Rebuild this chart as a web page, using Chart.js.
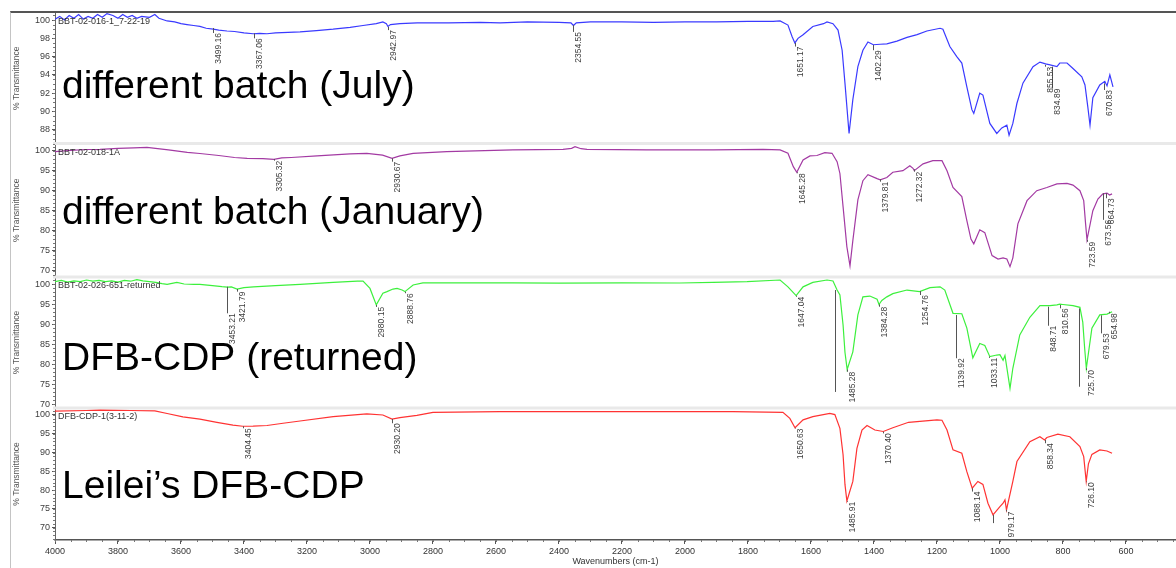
<!DOCTYPE html>
<html>
<head>
<meta charset="utf-8">
<title>IR spectra comparison</title>
<script src="https://cdn.jsdelivr.net/npm/chart.js@4.4.1/dist/chart.umd.min.js"></script>
<style>
  html, body { margin: 0; padding: 0; background: #fff; }
  #wrap { position: relative; width: 1176px; height: 568px; overflow: hidden; }
  #frame { position: absolute; left: 10px; top: 11px; right: 0; bottom: 0;
           border-left: 1px solid #c4c4c4; border-top: 2px solid #555; }
  #irChart { position: absolute; left: 0; top: 0; }
</style>
</head>
<body>
<div id="wrap">
  <div id="frame"></div>
  <canvas id="irChart" width="1176" height="568"></canvas>
</div>
<script>
// spectra: [wavenumber (cm-1), % transmittance]
const julySpectrum = [
  [4000, 100.1], [3985, 100.4], [3970, 100.0], [3955, 100.5], [3940, 100.2], [3925, 100.6],
  [3910, 100.1], [3895, 100.4], [3880, 100.2], [3865, 100.6], [3850, 100.3], [3835, 100.7],
  [3816, 100.5], [3800, 100.2], [3785, 100.6], [3770, 100.3], [3755, 100.5], [3740, 100.2],
  [3725, 100.4], [3700, 100.3], [3683, 100.6], [3670, 100.2], [3644, 99.9], [3620, 99.8],
  [3600, 99.6], [3581, 99.5], [3560, 99.4], [3540, 99.3], [3520, 99.1], [3498, 99.0],
  [3480, 98.9], [3454, 98.8], [3430, 98.75], [3400, 98.6], [3371, 98.5], [3350, 98.55],
  [3327, 98.5], [3300, 98.6], [3260, 98.65], [3222, 98.7], [3170, 98.85], [3117, 99.0],
  [3063, 99.2], [3022, 99.4], [2980, 99.6], [2959, 99.8], [2948, 99.6], [2943, 99.3],
  [2935, 99.5], [2905, 99.6], [2850, 99.7], [2750, 99.7], [2650, 99.75], [2587, 99.7],
  [2500, 99.8], [2400, 99.75], [2362, 99.7], [2354, 99.4], [2345, 99.7], [2300, 99.8],
  [2200, 99.8], [2100, 99.75], [2000, 99.8], [1900, 99.8], [1800, 99.85], [1720, 99.85],
  [1698, 99.9], [1673, 99.45], [1660, 98.2], [1651, 97.5], [1641, 98.0], [1625, 98.4],
  [1594, 99.3], [1560, 99.6], [1549, 99.8], [1530, 99.6], [1514, 98.9], [1501, 96.7],
  [1492, 93.1], [1479, 87.6], [1467, 91.3], [1451, 94.9], [1435, 96.7], [1419, 97.6],
  [1402, 97.3], [1380, 97.35], [1359, 97.4], [1327, 97.7], [1295, 98.1], [1263, 98.4],
  [1232, 98.8], [1190, 99.1], [1181, 99.0], [1159, 97.1], [1137, 96.0], [1121, 95.3],
  [1105, 92.7], [1089, 90.2], [1083, 89.8], [1064, 92.0], [1054, 91.8], [1032, 88.7],
  [1010, 87.6], [994, 88.2], [978, 88.5], [971, 87.4], [959, 88.7], [946, 90.9],
  [927, 93.1], [895, 94.9], [873, 95.4], [855, 95.2], [841, 95.1], [819, 94.9],
  [810, 95.3], [787, 95.3], [768, 94.7], [740, 93.8], [730, 92.9], [721, 90.5],
  [714, 88.5], [705, 91.5], [683, 92.9], [667, 93.3], [660, 92.8], [651, 94.0], [641, 92.7]
];

const januarySpectrum = [
  [4000, 99.75], [3950, 100.1], [3900, 100.3], [3857, 100.35], [3800, 100.6], [3750, 100.7],
  [3708, 100.85], [3640, 100.2], [3580, 99.6], [3540, 99.3], [3480, 98.8], [3430, 98.3],
  [3390, 98.1], [3340, 98.0], [3305, 97.85], [3280, 98.2], [3250, 98.3], [3168, 98.7],
  [3063, 99.2], [3010, 99.35], [2960, 98.9], [2930, 98.1], [2905, 98.7], [2863, 99.35],
  [2756, 99.75], [2546, 100.2], [2387, 100.35], [2360, 100.6], [2349, 101.0], [2330, 100.5],
  [2311, 100.35], [2121, 100.2], [1911, 100.2], [1752, 100.35], [1698, 100.2], [1673, 99.35],
  [1656, 96.0], [1645, 94.6], [1625, 97.7], [1603, 98.7], [1581, 98.8], [1556, 99.5],
  [1533, 99.35], [1517, 97.25], [1508, 94.3], [1498, 86.0], [1486, 76.0], [1476, 71.2],
  [1467, 77.5], [1451, 87.7], [1435, 92.5], [1419, 94.0], [1390, 93.0], [1380, 92.7],
  [1359, 93.3], [1340, 94.6], [1308, 95.0], [1286, 96.25], [1276, 95.6], [1272, 95.0],
  [1244, 96.7], [1213, 97.5], [1184, 97.5], [1168, 95.0], [1149, 90.8], [1121, 88.5],
  [1105, 82.5], [1092, 77.9], [1083, 76.7], [1064, 80.2], [1048, 79.5], [1025, 73.75],
  [1006, 72.9], [990, 73.2], [978, 72.9], [968, 71.0], [959, 73.2], [943, 81.7],
  [914, 87.5], [883, 90.0], [851, 90.8], [819, 91.7], [787, 91.8], [768, 91.4],
  [746, 90.0], [734, 87.5], [728, 81.7], [723.6, 77.7], [705, 85.0], [689, 87.9],
  [673, 89.2], [660, 89.4], [652, 88.9], [644, 89.2]
];

const returnedSpectrum = [
  [4000, 100.6], [3980, 100.9], [3960, 100.5], [3940, 100.8], [3920, 100.6], [3900, 101.0],
  [3880, 100.7], [3860, 100.9], [3840, 100.6], [3820, 100.8], [3800, 100.5], [3780, 100.9],
  [3760, 100.7], [3740, 101.1], [3721, 100.8], [3700, 100.6], [3680, 100.4], [3660, 100.1],
  [3644, 99.9], [3613, 100.4], [3590, 100.0], [3560, 99.9], [3540, 99.9], [3500, 99.6],
  [3470, 99.35], [3453, 99.25], [3440, 99.3], [3422, 98.75], [3400, 99.1], [3370, 99.3],
  [3300, 99.6], [3222, 99.9], [3117, 100.4], [3040, 100.7], [3022, 100.75], [3000, 98.9],
  [2980, 94.8], [2959, 97.7], [2946, 98.1], [2927, 98.75], [2914, 98.9], [2898, 98.5],
  [2889, 98.1], [2863, 99.75], [2832, 100.3], [2700, 100.3], [2546, 100.3], [2400, 100.2],
  [2200, 100.3], [2016, 100.25], [1911, 100.4], [1803, 100.6], [1698, 101.0], [1673, 99.3],
  [1647, 97.1], [1625, 99.3], [1594, 100.4], [1549, 101.0], [1530, 100.75], [1517, 98.5],
  [1508, 97.3], [1498, 89.8], [1492, 83.0], [1485, 78.7], [1467, 83.1], [1451, 92.3],
  [1435, 96.8], [1413, 97.0], [1390, 96.2], [1384, 94.9], [1375, 95.9], [1359, 96.8],
  [1340, 97.6], [1295, 98.5], [1255, 98.1], [1222, 99.1], [1190, 99.3], [1175, 98.5],
  [1149, 92.7], [1121, 92.6], [1105, 89.0], [1086, 81.6], [1064, 85.2], [1048, 84.7],
  [1032, 81.9], [1010, 82.3], [1000, 82.4], [990, 81.0], [984, 82.2], [968, 74.0],
  [959, 79.0], [937, 87.3], [905, 91.7], [873, 94.6], [841, 94.6], [819, 94.8],
  [810, 95.0], [800, 94.9], [768, 94.6], [746, 94.2], [737, 90.5], [731, 84.0],
  [725.7, 79.0], [708, 89.0], [683, 92.3], [660, 92.5], [644, 93.1]
];

const leileiSpectrum = [
  [4000, 101.05], [3900, 101.2], [3857, 101.3], [3760, 101.2], [3683, 101.1], [3644, 100.4],
  [3594, 99.5], [3540, 98.9], [3486, 98.05], [3435, 97.3], [3404, 97.0], [3371, 97.05],
  [3327, 97.2], [3276, 97.8], [3222, 98.4], [3117, 99.55], [3010, 100.3], [2959, 100.0],
  [2930, 98.9], [2905, 99.3], [2851, 99.9], [2800, 100.7], [2587, 100.9], [2270, 100.9],
  [1848, 100.9], [1689, 100.7], [1667, 99.1], [1650.6, 96.6], [1625, 98.7], [1594, 99.55],
  [1540, 100.4], [1524, 100.1], [1508, 96.45], [1498, 89.4], [1492, 81.5], [1485.9, 77.1],
  [1467, 82.3], [1454, 91.1], [1438, 96.0], [1422, 97.2], [1397, 96.0], [1370.4, 95.6],
  [1340, 96.6], [1290, 98.05], [1200, 98.7], [1184, 98.6], [1168, 96.0], [1149, 90.7],
  [1121, 89.8], [1105, 84.9], [1088, 80.5], [1070, 82.3], [1054, 81.5], [1038, 76.5],
  [1022, 73.4], [1000, 75.6], [990, 76.5], [984, 77.4], [979.2, 74.7], [959, 82.3],
  [946, 87.6], [905, 92.9], [873, 94.2], [858.3, 93.35], [851, 94.0], [816, 94.9],
  [778, 94.2], [746, 91.6], [734, 88.9], [726.1, 82.3], [719, 87.0], [708, 89.5],
  [683, 90.7], [660, 90.4], [644, 89.8]
];

// peak marks: [wavenumber, leader start %T, label start %T]
const julyPeaks = [
  [3499.16, 99.13, 98.58], [3367.06, 98.54, 98.0], [2942.97, 99.27, 98.9], [2354.55, 99.45, 98.7],
  [1651.17, 97.5, 97.1], [1402.29, 97.27, 96.7], [855.53, 95.1, 94.9], [834.89, 94.9, 92.5],
  [670.83, 93.08, 92.35]
];
const januaryPeaks = [
  [3305.32, 97.9, 97.5], [2930.67, 98.1, 97.25], [1645.28, 94.6, 94.35], [1379.81, 92.85, 92.25],
  [1272.32, 95.35, 94.75], [723.59, 77.7, 77.2], [664.73, 89.35, 88.1], [673.56, 89.35, 82.7]
];
const returnedPeaks = [
  [3453.21, 99.33, 92.7], [3421.79, 98.75, 98.1], [2980.15, 94.76, 94.3], [2888.76, 98.08, 97.7],
  [1647.04, 97.08, 96.83], [1485.28, 78.7, 78.13], [1384.28, 94.94, 94.34], [1254.76, 98.25, 97.26],
  [1139.92, 92.27, 81.5], [1033.11, 81.9, 81.6], [848.71, 94.34, 89.6], [810.56, 94.76, 93.94],
  [725.70, 79.0, 78.55], [679.53, 92.2, 87.7], [654.98, 93.1, 92.7]
];
const leileiPeaks = [
  [3404.45, 97.0, 96.46], [2930.20, 98.94, 97.8], [1650.63, 96.6, 96.4], [1485.91, 77.1, 76.9],
  [1370.40, 95.56, 95.1], [1088.14, 80.5, 79.6], [979.17, 74.7, 74.3], [858.34, 93.35, 92.47],
  [726.10, 82.3, 82.1]
];
// leader lines with no label text: [wavenumber, top %T, bottom %T]
const returnedLeaders = [[1524, 98.5, 73.1], [749, 93.9, 74.4]];
const leileiLeaders = [[1021, 73.4, 71.2]];

const sampleNames = ['BBT-02-016-1_7-22-19', 'BBT-02-018-1A', 'BBT-02-026-651-returned', 'DFB-CDP-1(3-11-2)'];
const captions = ['different batch (July)', 'different batch (January)', 'DFB-CDP (returned)', 'Leilei\u2019s DFB-CDP'];

const FONT = "'Liberation Sans', Arial, sans-serif";
Chart.defaults.font.family = FONT;

const panels = [
  { axis: 'yJuly', color: '#3a3aff', spectrum: julySpectrum, peaks: julyPeaks, leaders: [], captionDrop: 85 },
  { axis: 'yJan', color: '#a33aa3', spectrum: januarySpectrum, peaks: januaryPeaks, leaders: [], captionDrop: 80 },
  { axis: 'yRet', color: '#3df03d', spectrum: returnedSpectrum, peaks: returnedPeaks, leaders: returnedLeaders, captionDrop: 93 },
  { axis: 'yLei', color: '#ff3333', spectrum: leileiSpectrum, peaks: leileiPeaks, leaders: leileiLeaders, captionDrop: 90 }
];

function panelAxis(min, max, step, weight, stackWeight) {
  return {
    type: 'linear',
    position: 'left',
    stack: 'ir',
    stackWeight: stackWeight,
    weight: weight,
    min: min,
    max: max,
    ticks: {
      stepSize: step,
      includeBounds: false,
      autoSkip: false,
      font: { size: 9 },
      color: '#3d3d3d',
      padding: 2,
      callback: (v) => String(v),
    },
    grid: { drawOnChartArea: false, tickLength: 3, color: '#555' },
    border: { color: '#666', width: 1 },
    title: { display: true, text: '% Transmittance', font: { size: 8.5 }, color: '#555', padding: { top: 2, bottom: 0 } },
    afterFit: (scale) => { scale.width = 45; },
  };
}

const panelDecor = {
  id: 'panelDecor',
  beforeDatasetsDraw(chart) {
    const c = chart.ctx;
    const x = chart.scales.x;
    c.save();
    // light bands between the stacked panels
    c.fillStyle = '#e9e9e9';
    panels.slice(1).forEach((p) => {
      const s = chart.scales[p.axis];
      c.fillRect(x.left - 2, s.top - 1.5, chart.width - x.left + 2, 3);
    });
    // minor ticks
    c.strokeStyle = '#777';
    c.lineWidth = 1;
    c.beginPath();
    panels.forEach((p, i) => {
      const s = chart.scales[p.axis];
      const minor = i === 0 ? 0.5 : 1;
      for (let v = Math.ceil(s.min / minor) * minor; v <= s.max; v += minor) {
        const py = Math.round(s.getPixelForValue(v)) + 0.5;
        c.moveTo(s.right - 2, py);
        c.lineTo(s.right, py);
      }
    });
    for (let v = 4000; v >= x.min; v -= 50) {
      const px = Math.round(x.getPixelForValue(v)) + 0.5;
      c.moveTo(px, x.top);
      c.lineTo(px, x.top + 2);
    }
    c.stroke();
    c.restore();
  },
  afterDatasetsDraw(chart) {
    const c = chart.ctx;
    const x = chart.scales.x;
    c.save();
    panels.forEach((p, i) => {
      const s = chart.scales[p.axis];
      // sample file name
      c.font = '9px ' + FONT;
      c.fillStyle = '#333';
      c.textBaseline = 'middle';
      c.textAlign = 'left';
      c.fillText(sampleNames[i], x.left + 3, s.top + 9);
      // peak leaders and labels
      c.strokeStyle = '#555';
      c.lineWidth = 1;
      c.beginPath();
      p.peaks.concat(p.leaders).forEach(([wn, top, bottom]) => {
        const px = Math.round(x.getPixelForValue(wn)) + 0.5;
        c.moveTo(px, s.getPixelForValue(top));
        c.lineTo(px, s.getPixelForValue(bottom));
      });
      c.stroke();
      c.font = '8.5px ' + FONT;
      c.fillStyle = '#3c3c3c';
      p.peaks.forEach(([wn, top, labelTop]) => {
        c.save();
        c.translate(Math.round(x.getPixelForValue(wn)) + 1, s.getPixelForValue(labelTop));
        c.rotate(-Math.PI / 2);
        c.textAlign = 'right';
        c.textBaseline = 'top';
        c.fillText(wn.toFixed(2), 0, 0);
        c.restore();
      });
      // big caption
      c.font = '39px ' + FONT;
      c.fillStyle = '#000';
      c.textBaseline = 'alphabetic';
      c.textAlign = 'left';
      c.fillText(captions[i], x.left + 7, s.top + p.captionDrop);
    });
    c.restore();
  }
};

const ctx = document.getElementById('irChart').getContext('2d');
new Chart(ctx, {
  type: 'line',
  data: {
    datasets: panels.map((p, i) => ({
      label: sampleNames[i],
      data: p.spectrum.map(([wn, t]) => ({ x: wn, y: t })),
      yAxisID: p.axis,
      borderColor: p.color,
      borderWidth: 1.2,
      pointRadius: 0,
      tension: 0,
      fill: false,
    })),
  },
  options: {
    responsive: false,
    animation: false,
    layout: { padding: { left: 10, top: 13, right: 0, bottom: 0 } },
    plugins: { legend: { display: false }, tooltip: { enabled: false } },
    scales: {
      x: {
        type: 'linear',
        position: 'bottom',
        reverse: true,
        min: 441,
        max: 4000,
        ticks: {
          stepSize: 200,
          includeBounds: false,
          autoSkip: false,
          maxRotation: 0,
          font: { size: 9 },
          color: '#333',
          padding: 2,
          callback: (v) => String(v),
        },
        grid: { drawOnChartArea: false, tickLength: 4, color: '#555' },
        border: { color: '#555', width: 1.5 },
        title: { display: true, text: 'Wavenumbers (cm-1)', font: { size: 9 }, color: '#333', padding: { top: 0, bottom: 1 } },
        afterFit: (scale) => { scale.height = 28; },
      },
      yJuly: panelAxis(86.5, 100.77, 2, 4, 130.5),
      yJan: panelAxis(68.4, 101.8, 5, 3, 133.5),
      yRet: panelAxis(69.1, 101.75, 5, 2, 131),
      yLei: panelAxis(66.7, 101.86, 5, 1, 132),
    },
  },
  plugins: [panelDecor],
});
</script>
</body>
</html>
